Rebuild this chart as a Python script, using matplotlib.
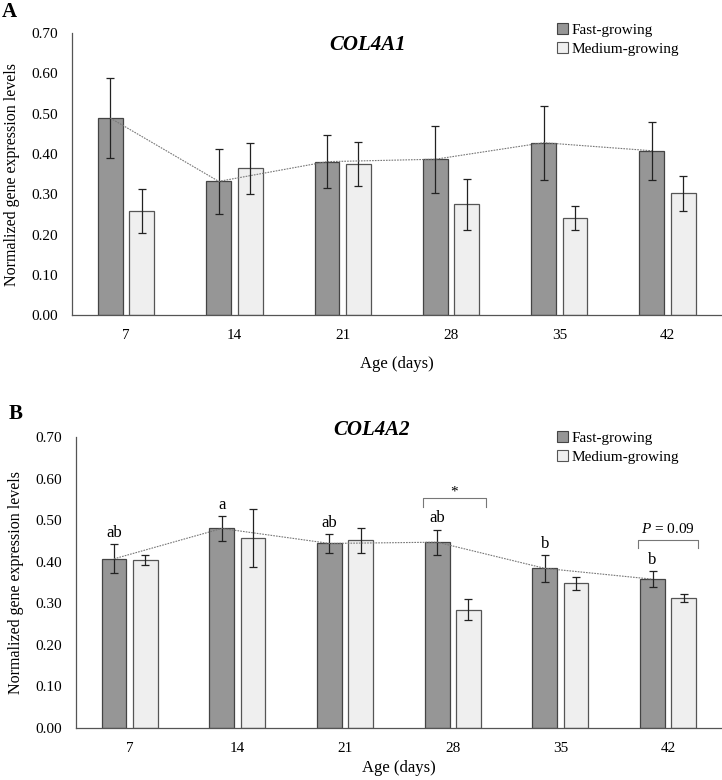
import numpy as np
import matplotlib.pyplot as plt
from matplotlib.patches import Patch

plt.rcParams['font.family'] = ['Liberation Serif', 'DejaVu Serif']
plt.rcParams['mathtext.fontset'] = 'custom'
plt.rcParams['mathtext.it'] = 'Liberation Serif:italic'
plt.rcParams['mathtext.rm'] = 'Liberation Serif'

ages = ["7", "14", "21", "28", "35", "42"]

# COL4A1 (panel A)
a_fast = [0.489, 0.332, 0.381, 0.387, 0.428, 0.408]
a_fast_err = [0.099, 0.080, 0.065, 0.083, 0.092, 0.072]
a_med = [0.258, 0.364, 0.376, 0.275, 0.241, 0.302]
a_med_err = [0.055, 0.063, 0.055, 0.063, 0.030, 0.043]

# COL4A2 (panel B)
b_fast = [0.407, 0.480, 0.444, 0.447, 0.384, 0.358]
b_fast_err = [0.035, 0.030, 0.022, 0.030, 0.032, 0.019]
b_med = [0.403, 0.458, 0.452, 0.285, 0.348, 0.313]
b_med_err = [0.012, 0.070, 0.030, 0.025, 0.015, 0.009]
b_letters = ["ab", "a", "ab", "ab", "b", "b"]

fast_col = "#969696"
med_col = "#efefef"
w = 0.23
off = 0.145

fig = plt.figure(figsize=(7.22, 7.8), dpi=100)
axA = fig.add_axes([0.0997, 0.596, 0.9, 0.3615])
axB = fig.add_axes([0.105, 0.0667, 0.895, 0.373])


def draw(ax, fast, fast_err, med, med_err, xpad):
    x = np.arange(len(ages))
    ek = dict(ecolor="#222222", elinewidth=0.9, capsize=3, capthick=0.9)
    ax.bar(x - off, fast, w, color=fast_col, edgecolor="#444444", linewidth=0.9,
           yerr=fast_err, error_kw=ek, zorder=2)
    ax.bar(x + off, med, w, color=med_col, edgecolor="#555555", linewidth=0.9,
           yerr=med_err, error_kw=ek, zorder=2)
    ax.plot(x - off, fast, linestyle=(0, (1.5, 1)), color="#777777", linewidth=0.8, zorder=3)
    ax.set_xlim(-0.5, len(ages) - 0.5)
    ax.set_ylim(0, 0.70)
    ax.set_yticks(np.arange(0, 0.71, 0.1))
    ax.set_yticklabels([f"{v:.2f}" for v in np.arange(0, 0.71, 0.1)], fontsize=11)
    ax.set_xticks(x)
    ax.set_xticklabels(ages, fontsize=11)
    ax.tick_params(axis="both", length=0, pad=10)
    for s in ["top", "right"]:
        ax.spines[s].set_visible(False)
    for s in ["left", "bottom"]:
        ax.spines[s].set_color("#555555")
        ax.spines[s].set_linewidth(0.9)
    ax.set_xlabel("Age (days)", fontsize=12, labelpad=xpad)
    ax.set_ylabel("Normalized gene expression levels", fontsize=11.5, labelpad=8)


draw(axA, a_fast, a_fast_err, a_med, a_med_err, 10)
draw(axB, b_fast, b_fast_err, b_med, b_med_err, 4)

# letters above fast bars in panel B
for i, (v, e, t) in enumerate(zip(b_fast, b_fast_err, b_letters)):
    axB.text(i - off, v + e + 0.008, t, ha="center", va="bottom", fontsize=12)

# significance brackets
def bracket(ax, i, x0, x1, ytop, ybot, label, dy, **kw):
    ax.plot([i + x0, i + x0, i + x1, i + x1], [ybot, ytop, ytop, ybot],
            color="#777777", linewidth=0.8)
    ax.text(i + (x0 + x1) / 2, ytop + dy, label, ha="center", va="bottom", **kw)

bracket(axB, 3, -0.28, 0.31, 0.553, 0.532, "*", 0.0, fontsize=11)
bracket(axB, 5, -0.28, 0.28, 0.452, 0.434, r"$P$ = 0.09", 0.01, fontsize=11)

handles = [Patch(facecolor=fast_col, edgecolor="#444444", linewidth=0.8),
           Patch(facecolor=med_col, edgecolor="#555555", linewidth=0.8)]
labels = ["Fast-growing", "Medium-growing"]
for ax, y in [(axA, 1 - 23 / 780), (axB, 1 - 431 / 780)]:
    fig.legend(handles, labels, loc="upper left", bbox_to_anchor=(0.772, y),
               frameon=False, fontsize=11, handlelength=0.7, handleheight=0.7,
               handletextpad=0.2, labelspacing=0.35, borderaxespad=0, borderpad=0)

fig.text(368 / 722, 1 - 45 / 780, "COL4A1", ha="center", va="center",
         fontsize=15, fontweight="bold", fontstyle="italic")
fig.text(372 / 722, 1 - 430 / 780, "COL4A2", ha="center", va="center",
         fontsize=15, fontweight="bold", fontstyle="italic")
fig.text(9 / 722, 1 - 12 / 780, "A", ha="center", va="center", fontsize=15, fontweight="bold")
fig.text(16 / 722, 1 - 414 / 780, "B", ha="center", va="center", fontsize=15, fontweight="bold")

fig.savefig("out.png", dpi=100)
